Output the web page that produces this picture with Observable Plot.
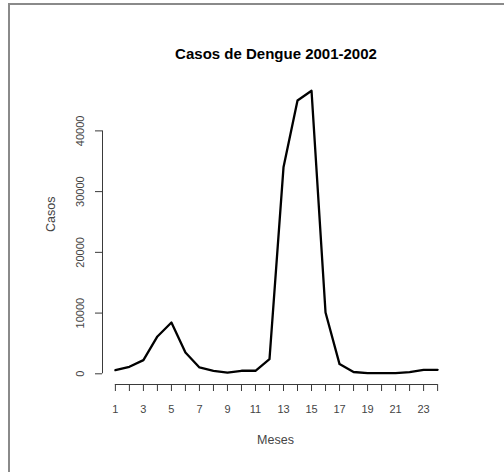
<!DOCTYPE html>
<html>
<head>
<meta charset="utf-8">
<script src="https://cdn.jsdelivr.net/npm/d3@7"></script>
<script src="https://cdn.jsdelivr.net/npm/@observablehq/plot@0.6"></script>
<style>
  html, body { margin: 0; padding: 0; background: #fff; }
  #wrap { position: absolute; left: 0; top: 0; width: 504px; height: 472px; overflow: hidden; }
  #frame { position: absolute; left: 8px; top: 3px; width: 520px; height: 500px;
           border-top: 2px solid #8a8a8a; border-left: 2px solid #8a8a8a; box-sizing: border-box; }
  #chart { position: absolute; left: 0; top: 0; }
  svg { font-family: "Liberation Sans", Arial, sans-serif; }
</style>
</head>
<body>
<div id="wrap"><div id="frame"></div><div id="chart"></div></div>
<script>
const title = "Casos de Dengue 2001-2002";
const xTitle = "Meses";
const yTitle = "Casos";
const months = [1,2,3,4,5,6,7,8,9,10,11,12,13,14,15,16,17,18,19,20,21,22,23,24];
const casos = [600,1150,2250,6150,8450,3500,1050,500,200,500,500,2400,34000,45000,46600,10100,1600,300,100,100,100,280,650,650];
const xTicks = months;
const yTicks = [0,10000,20000,30000,40000];

const data = months.map((m, i) => ({mes: m, casos: casos[i]}));

// R-style 4% padding of the data range
const xr = d3.extent(months), yr = d3.extent(casos);
const xpad = 0.04 * (xr[1] - xr[0]), ypad = 0.04 * (yr[1] - yr[0]);
const xDom = [xr[0] - xpad, xr[1] + xpad];
const yDom = [yr[0] - ypad, yr[1] + ypad];

const axisColor = "#3a3a3a";
const labelColor = "#454545";

const chart = Plot.plot({
  width: 504,
  height: 472,
  marginLeft: 102,
  marginRight: 54,
  marginTop: 79,
  marginBottom: 88,
  style: {fontFamily: "'Liberation Sans', Arial, sans-serif", background: "transparent", overflow: "visible"},
  x: {domain: xDom},
  y: {domain: yDom},
  marks: [
    // x axis
    Plot.ruleY([yDom[0]], {x1: xr[0], x2: xr[1], stroke: axisColor, strokeWidth: 1}),
    Plot.axisX({ticks: xTicks, tickSize: 7, tickPadding: 14, stroke: axisColor, fill: labelColor, fontSize: 11,
                tickFormat: d => (d % 2 === 1 ? String(d) : ""), label: null}),
    // y axis
    Plot.ruleX([xDom[0]], {y1: yTicks[0], y2: yTicks[yTicks.length - 1], stroke: axisColor, strokeWidth: 1}),
    Plot.axisY({ticks: yTicks, tickSize: 7, tickPadding: 12, tickRotate: -90, stroke: axisColor, fill: labelColor, fontSize: 11,
                tickFormat: d => String(d), label: null}),
    // data line
    Plot.line(data, {x: "mes", y: "casos", stroke: "#000", strokeWidth: 2.3, strokeLinejoin: "round"}),
    // titles
    Plot.text([title], {frameAnchor: "top", dy: -31, dx: -0.5, fontSize: 15, fontWeight: "bold", fill: "#000"}),
    Plot.text([xTitle], {frameAnchor: "bottom", dy: 59, dx: -1, fontSize: 12.5, fill: labelColor}),
    Plot.text([yTitle], {frameAnchor: "left", dx: -52, rotate: -90, fontSize: 12.5, fill: labelColor})
  ]
});
document.getElementById("chart").appendChild(chart);
</script>
</body>
</html>
